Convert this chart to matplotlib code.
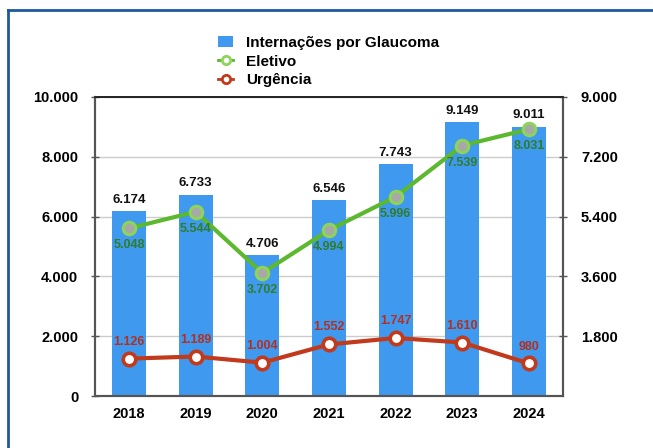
import matplotlib
matplotlib.use("Agg")
import matplotlib.pyplot as plt
from matplotlib.lines import Line2D
from matplotlib.patches import Patch

plt.rcParams['font.family'] = ['Liberation Sans', 'DejaVu Sans']

# Data
anos = ['2018', '2019', '2020', '2021', '2022', '2023', '2024']
internacoes = [6174, 6733, 4706, 6546, 7743, 9149, 9011]
eletivo = [5048, 5544, 3702, 4994, 5996, 7539, 8031]
urgencia = [1126, 1189, 1004, 1552, 1747, 1610, 980]

left_ticks = [0, 2000, 4000, 6000, 8000, 10000]
left_labels = ['0', '2.000', '4.000', '6.000', '8.000', '10.000']
right_ticks = [1800, 3600, 5400, 7200, 9000]
right_labels = ['1.800', '3.600', '5.400', '7.200', '9.000']

def fmt(v):
    return f"{v:,}".replace(',', '.')

bar_color = '#3f99ee'
green = '#5cb82e'
green_light = '#8ed45a'
green_text = '#2f7d2a'
red = '#c23a1c'
red_text = '#b33020'

fig = plt.figure(figsize=(6.53, 4.48), dpi=100)
ax = fig.add_axes([0.1455, 0.116, 0.7165, 0.6675])
ax2 = ax.twinx()

x = list(range(len(anos)))

ax.bar(x, internacoes, width=0.51, color=bar_color, zorder=2)
for xi, v in zip(x, internacoes):
    ax.text(xi, v + 180, fmt(v), ha='center', va='bottom', fontsize=9.5,
            fontweight='bold', color='#111111', zorder=5)

ax.set_xlim(-0.51, len(anos) - 0.49)
ax.set_ylim(0, 10000)
ax.set_yticks(left_ticks)
ax.set_yticklabels(left_labels, fontsize=10.5, fontweight='bold')
ax.set_xticks(x)
ax.set_xticklabels(anos, fontsize=10.5, fontweight='bold')
ax.yaxis.grid(True, color='#cccccc', linewidth=1.0, zorder=0)
ax.set_axisbelow(True)
ax.tick_params(axis='y', direction='inout', length=6, width=1, color='#555555', pad=9)
ax.tick_params(axis='x', length=0, pad=8)

ax2.set_ylim(0, 9000)
ax2.set_yticks(right_ticks)
ax2.set_yticklabels(right_labels, fontsize=10.5, fontweight='bold')
ax2.tick_params(axis='y', direction='inout', length=6, width=1, color='#555555', pad=10)

for a in (ax, ax2):
    for s in a.spines.values():
        s.set_color('#555555')
        s.set_linewidth(1.5)
    a.spines['top'].set_color('#222222')
    a.spines['top'].set_linewidth(1.2)

ax2.plot(x, eletivo, color=green, linewidth=3, marker='o', markersize=9,
         markerfacecolor='#a8a8a8', markeredgecolor=green_light,
         markeredgewidth=2.2, zorder=4)
for xi, v in zip(x, eletivo):
    ax2.text(xi, v - 330, fmt(v), ha='center', va='top', fontsize=9,
             fontweight='bold', color=green_text, zorder=5)

ax2.plot(x, urgencia, color=red, linewidth=3, marker='o', markersize=9,
         markerfacecolor='white', markeredgecolor=red,
         markeredgewidth=2.6, zorder=4)
for xi, v in zip(x, urgencia):
    ax2.text(xi, v + 330, fmt(v), ha='center', va='bottom', fontsize=9,
             fontweight='bold', color=red_text, zorder=5)

handles = [
    Patch(facecolor=bar_color, edgecolor='none'),
    Line2D([], [], color=green, linewidth=2, marker='o', markersize=6,
           markerfacecolor='white', markeredgecolor=green_light, markeredgewidth=2),
    Line2D([], [], color=red, linewidth=2, marker='o', markersize=6,
           markerfacecolor='white', markeredgecolor=red, markeredgewidth=2),
]
fig.legend(handles, ['Internações por Glaucoma', 'Eletivo', 'Urgência'],
           loc='upper left', bbox_to_anchor=(0.313, 0.95), frameon=False,
           handlelength=1.0, handletextpad=0.8, labelspacing=0.3,
           prop={'weight': 'bold', 'size': 11})

# blue frame around the picture
fig.add_artist(Line2D([8 / 653, 1], [1 - 10 / 448, 1 - 10 / 448],
                      transform=fig.transFigure, color='#1f5a9a', linewidth=2))
fig.add_artist(Line2D([8 / 653, 8 / 653], [0, 1 - 10 / 448],
                      transform=fig.transFigure, color='#1f5a9a', linewidth=2))

fig.savefig('out.png', dpi=100)
